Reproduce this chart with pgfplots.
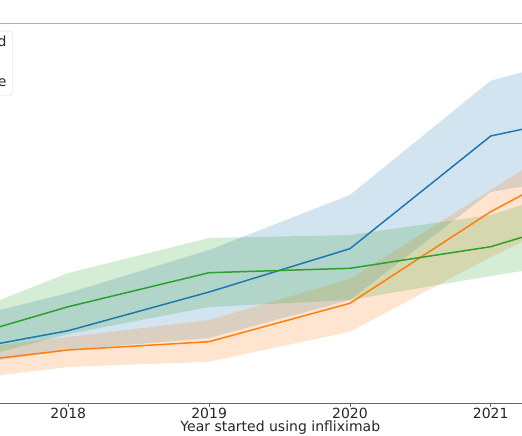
\documentclass[border=0pt]{standalone}
\usepackage{fontspec}
\setmainfont{DejaVu Sans}
\usepackage{pgfplots}
\usepackage{pgfplotstable}
\usepgfplotslibrary{fillbetween}
\pgfplotsset{compat=1.18}
\definecolor{tabblue}{HTML}{1F77B4}
\definecolor{taborange}{HTML}{FF7F0E}
\definecolor{tabgreen}{HTML}{2CA02C}

\pgfplotstableread{
x m lo hi
2017 46.3 32.4 75
2018 72.3 53 110
2019 111 65 153
2020 154.3 103 208
2021 267 211 322.3
2022 297.1 235 360
}\tblblue
\pgfplotstableread{
x m lo hi
2017 36.5 19.5 49.5
2018 53 36 66
2019 61.3 41.3 83
2020 99.7 71.3 124
2021 191.3 146 213
2022 266.4 213.4 303
}\tblorange
\pgfplotstableread{
x m lo hi
2017 55.1 31.9 74.4
2018 96.3 69 130
2019 130.3 96 165
2020 134.7 103 168
2021 156.3 127 188
2022 198.6 149.5 233
}\tblgreen

\begin{document}
\fontsize{14pt}{16.5pt}\selectfont
\begin{tikzpicture}
\begin{axis}[
  width=522pt, height=380pt, scale only axis,
  xmin=2017.515, xmax=2021.222, ymin=0, ymax=380,
  axis x line*=bottom, axis y line=none,
  x axis line style={-, draw=black!60, line width=0.8pt},
  xtick={2018,2019,2020,2021}, xticklabels={2018,2019,2020,2021},
  tick align=outside, major tick length=4pt,
  xtick style={draw=black!60, line width=0.8pt},
  xticklabel style={anchor=base, yshift=-11.4pt, inner sep=0pt, font=\fontsize{14pt}{16.5pt}\selectfont, text=black!85},
  xlabel={Year started using infliximab},
  xlabel style={at={(axis description cs:0.537,0)}, anchor=base, yshift=-29pt, inner sep=0pt, font=\fontsize{14pt}{16.5pt}\selectfont, text=black!85},
  legend cell align=left,
  legend style={at={(axis description cs:0.0243,0.979)}, anchor=north east,
    draw=black!15, rounded corners=3pt, fill=white, fill opacity=0.8, text opacity=1,
    inner xsep=5pt, inner ysep=4.8pt, row sep=5.7pt,
    font=\fontsize{14pt}{16.5pt}\selectfont,
    nodes={inner sep=1pt, text height=9.5pt, text depth=2.8pt, text=black!85}},
  after end axis/.code={\draw[black!30, line width=0.9pt] (rel axis cs:0,1) -- (rel axis cs:1,1);},
]
\coordinate (ll) at (rel axis cs:0,0);
\coordinate (ur) at (rel axis cs:1,1);

% blue
\addplot[tabblue, line width=1.5pt] table[x=x, y=m] {\tblblue};
\addlegendentry{\makebox[8.6em][r]{Biosimilar switched}}
\addplot[name path=bhi, draw=none, forget plot] table[x=x, y=hi] {\tblblue};
\addplot[name path=blo, draw=none, forget plot] table[x=x, y=lo] {\tblblue};
\addplot[tabblue, fill opacity=0.2, draw=none, forget plot] fill between[of=bhi and blo];

% orange
\addplot[taborange, line width=1.5pt] table[x=x, y=m] {\tblorange};
\addlegendentry{Originator}
\addplot[name path=ohi, draw=none, forget plot] table[x=x, y=hi] {\tblorange};
\addplot[name path=olo, draw=none, forget plot] table[x=x, y=lo] {\tblorange};
\addplot[taborange, fill opacity=0.2, draw=none, forget plot] fill between[of=ohi and olo];

% green
\addplot[tabgreen, line width=1.5pt] table[x=x, y=m] {\tblgreen};
\addlegendentry{\makebox[8.6em][r]{Biosimilar naive}}
\addplot[name path=ghi, draw=none, forget plot] table[x=x, y=hi] {\tblgreen};
\addplot[name path=glo, draw=none, forget plot] table[x=x, y=lo] {\tblgreen};
\addplot[tabgreen, fill opacity=0.2, draw=none, forget plot] fill between[of=ghi and glo];
\end{axis}
\pgfresetboundingbox
\path[use as bounding box] ([yshift=-33pt]ll) rectangle ([yshift=23pt]ur);
\end{tikzpicture}
\end{document}
